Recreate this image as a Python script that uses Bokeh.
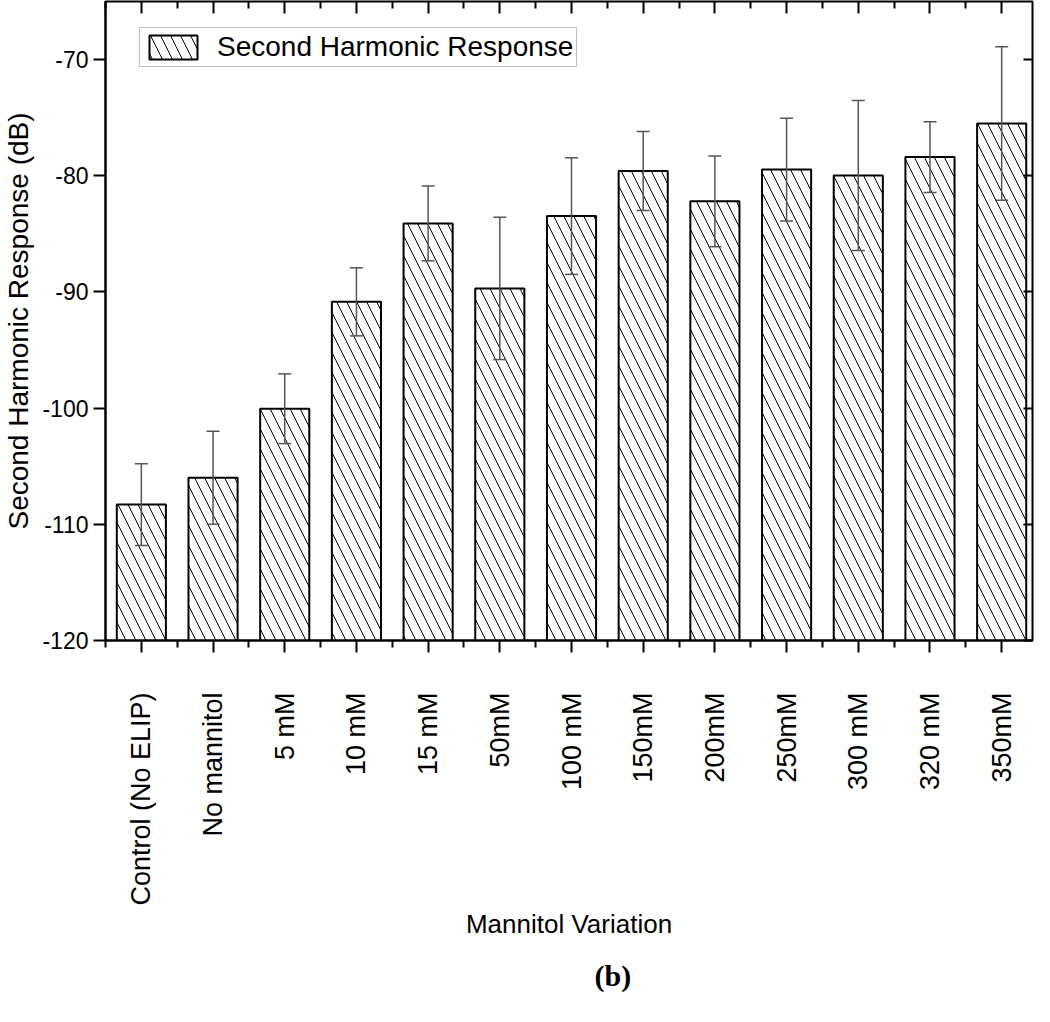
import math
from bokeh.plotting import figure
from bokeh.models import (Range1d, LinearAxis, FixedTicker, ColumnDataSource, Whisker,
                          TeeHead, Legend, LegendItem, Title)
from bokeh.embed import file_html
from bokeh.resources import INLINE

categories = ["Control (No ELIP)", "No mannitol", "5 mM", "10 mM", "15 mM", "50mM",
              "100 mM", "150mM", "200mM", "250mM", "300 mM", "320 mM", "350mM"]
means = [-108.3, -106.0, -100.05, -90.85, -84.1, -89.7, -83.47, -79.59, -82.2,
         -79.47, -79.98, -78.39, -75.5]
errors = [3.52, 4.0, 3.0, 2.93, 3.22, 6.12, 5.02, 3.4, 3.9, 4.43, 6.45, 3.05, 6.6]
y_ticks = [-120, -110, -100, -90, -80, -70]

xs = list(range(len(categories)))
src = ColumnDataSource(dict(
    x=xs, top=means,
    upper=[m + e for m, e in zip(means, errors)],
    lower=[m - e for m, e in zip(means, errors)],
))

FONT = "Liberation Sans"

p = figure(x_range=Range1d(-0.5, 12.43), y_range=Range1d(-120, -65.0),
           width=1034, height=1006,
           min_border_left=101, min_border_right=2, min_border_top=1, min_border_bottom=363,
           output_backend="svg", toolbar_location=None,
           x_axis_type=None, y_axis_type=None)
p.xgrid.visible = False
p.ygrid.visible = False
p.outline_line_color = "black"
p.outline_line_width = 2
p.background_fill_color = "white"
p.border_fill_color = "white"

xticker = FixedTicker(ticks=xs, minor_ticks=[i - 0.5 for i in range(len(categories) + 1)])
yticker = FixedTicker(ticks=y_ticks, minor_ticks=[])

# bottom axis
xb = LinearAxis(ticker=xticker,
                major_label_overrides={i: c for i, c in enumerate(categories)},
                major_label_orientation=math.pi / 2,
                major_label_standoff=40,
                major_label_text_font=FONT, major_label_text_font_size="27px",
                major_label_text_color="black",
                major_tick_out=12, major_tick_in=0, minor_tick_out=7, minor_tick_in=0,
                major_tick_line_width=2, minor_tick_line_width=2,
                axis_line_width=2, axis_label="Mannitol Variation",
                axis_label_text_font=FONT, axis_label_text_font_size="26px",
                axis_label_text_color="black",
                axis_label_text_font_style="normal", axis_label_standoff=0)
p.add_layout(xb, "below")

# left axis
yl = LinearAxis(ticker=yticker, major_label_standoff=5,
                major_label_overrides={t: str(t) for t in y_ticks},
                major_label_text_font=FONT, major_label_text_font_size="23px",
                major_label_text_color="black",
                major_tick_out=12, major_tick_in=0, minor_tick_out=0, minor_tick_in=0,
                major_tick_line_width=2, axis_line_width=2,
                axis_label="Second Harmonic Response (dB)",
                axis_label_text_font=FONT, axis_label_text_font_size="28px",
                axis_label_text_color="black",
                axis_label_text_font_style="normal", axis_label_standoff=5)
p.add_layout(yl, "left")

# top mirror axis
xt = LinearAxis(ticker=xticker, major_label_text_font_size="0px", major_label_standoff=0,
                major_tick_out=0, major_tick_in=12, minor_tick_out=0, minor_tick_in=7,
                major_tick_line_width=2, minor_tick_line_width=2, axis_line_color=None,
                major_label_overrides={i: "" for i in xs})
p.add_layout(xt, "above")

# right mirror axis
yr = LinearAxis(ticker=yticker, major_label_text_font_size="0px", major_label_standoff=0,
                major_tick_out=0, major_tick_in=9, minor_tick_out=0, minor_tick_in=0,
                major_tick_line_width=2, axis_line_color=None,
                major_label_overrides={t: "" for t in y_ticks})
p.add_layout(yr, "right")

bars = p.vbar(x="x", top="top", bottom=-120, width=0.685, source=src,
              fill_color="white", line_color="black", line_width=2,
              hatch_pattern="\\", hatch_color="black", hatch_weight=1, hatch_scale=20)

wh = Whisker(base="x", upper="upper", lower="lower", source=src,
             line_color="#555555", line_width=1.5, level="overlay",
             upper_head=TeeHead(size=13, line_color="#555555", line_width=1.5),
             lower_head=TeeHead(size=13, line_color="#555555", line_width=1.5))
p.add_layout(wh)

legend = Legend(items=[LegendItem(label="Second Harmonic Response", renderers=[bars])],
                location=(34, 573), margin=0, padding=3, spacing=0,
                glyph_width=60, glyph_height=30, label_standoff=14,
                label_text_font=FONT, label_text_font_size="28px",
                label_text_color="black",
                border_line_color="#808080", border_line_width=1.5,
                background_fill_color="white", background_fill_alpha=1.0)
p.add_layout(legend, "center")

sub = Title(text="(b)", align="left", offset=489, vertical_align="bottom", standoff=30,
            text_font="Liberation Serif", text_font_style="bold", text_font_size="30px",
            text_color="black")
p.add_layout(sub, "below")

open("out.html", "w").write(file_html(p, INLINE))
